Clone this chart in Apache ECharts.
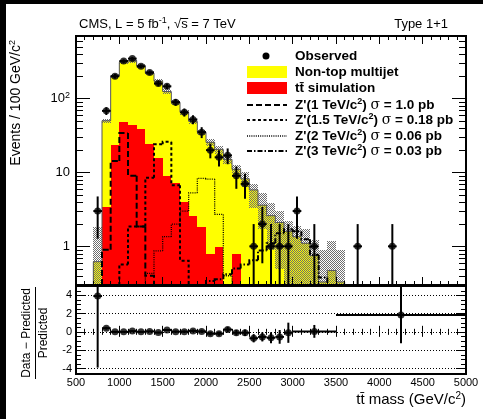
<!DOCTYPE html>
<html>
<head>
<meta charset="utf-8">
<script src="https://cdn.jsdelivr.net/npm/echarts@6.0.0/dist/echarts.min.js"></script>
<style>
html,body{margin:0;padding:0;background:#fff;}
#chart{width:483px;height:419px;}
</style>
</head>
<body>
<div id="chart"></div>
<script>
// ---------------- data ----------------
const binLow = [700,800,900,1000,1100,1200,1300,1400,1500,1600,1700,1800,1900,2000,2100,2200,2300,2400,2500,2600,2700,2800,2900,3000,3100,3200,3300,3400,3500];
const binWidth = 100;
const ttbarSim = [0,3.4,23.5,47.5,43.7,38.2,24,15.5,9.0,7.3,3.96,2.54,1.82,0.80,0.99,0,0.80,0,0,0,0,0,0,0,0,0,0,0,0];
const nonTopMultijet = [0.62,46.6,178.5,262.5,281.3,239.8,196,155.5,115,81.7,61.0,46.5,33.2,24.7,19.5,15,10.2,8.2,5.8,3.6,2.6,2.1,1.6,1.35,1.1,0.75,0.33,0.47,0.33];
const uncLow  = [0.1,47,190,292,306,262,207,160,115,82,60,45,32,22.5,18,13,9.5,6.4,3.3,1.7,0.9,0.5,0.1,0.1,0.1,0.1,0.1,0.1,0.1];
const uncHigh = [1.8,53,214,328,344,294,233,182,133,96,70,53,38,28.5,23,17,12.5,10,7.0,5.3,3.8,3.0,2.2,1.9,1.7,1.2,0.9,1.17,0.9];
const zp1000 = [0,0.9,14.3,34,9,1.86,0.4,0,0,0,0,0,0,0,0,0,0,0,0,0,0,0,0,0,0,0,0,0,0];
const zp1500 = [0,0,0,0.57,1.86,1.86,8.5,24,26,6.7,0.64,0,0,0,0,0,0,0,0,0,0,0,0,0,0,0,0,0,0];
const zp2000 = [0,0,0,0,0,0,0.43,0.87,1.35,2.0,3.0,5.3,8.3,8.1,2.7,0.4,0,0,0,0,0,0,0,0,0,0,0,0,0];
const zp3000 = [0,0,0,0,0,0,0,0,0,0,0,0,0,0.34,0.36,0.42,0.5,0.57,0.65,0.88,1.1,1.5,1.7,1.6,1.25,0.77,0.38,0,0];

const obsMass   = [750,850,950,1050,1150,1250,1350,1450,1550,1650,1750,1850,1950,2050,2150,2250,2350,2450,2550,2650,2750,2850,2950,3050,3250,3750,4150];
const obsEvents = [3,68,200,321,346,272,224,159,146,89,65,52,35,20,16,17,9,7,1,2,1,1,1,3,1,1,1];
const obsErr    = [1.73,8.2,14.1,17.9,18.6,16.5,15.0,12.6,12.1,9.4,8.1,7.2,5.9,4.5,4.0,4.1,3.0,2.6,1.0,1.41,1.0,1.0,1.0,1.73,1.0,1.0,1.0];

const ratioMass  = [750,850,950,1050,1150,1250,1350,1450,1550,1650,1750,1850,1950,2050,2150,2250,2350,2450,2550,2650,2750,2850,2950,3250,4250];
const ratioHalfW = [50,50,50,50,50,50,50,50,50,50,50,50,50,50,50,50,50,50,50,50,50,50,50,250,750];
const ratioValue = [3.9,0.4,0.0,0.0,0.08,0.0,0.05,-0.08,0.2,0.02,0.02,0.1,0.05,-0.2,-0.2,0.25,-0.1,-0.1,-0.7,-0.55,-0.65,-0.55,-0.1,0.05,1.85];
const ratioErr   = [7.8,0.15,0.07,0.06,0.06,0.06,0.07,0.08,0.09,0.11,0.13,0.15,0.17,0.2,0.22,0.28,0.3,0.35,0.45,0.5,0.6,0.75,1.1,0.7,3.1];

const logMinorTicks = [0.4,0.5,0.6,0.7,0.8,0.9,2,3,4,5,6,7,8,9,20,30,40,50,60,70,80,90,200,300,400,500,600];
const ratioMinorTicks = [-4.5,-3.5,-3,-2.5,-1.5,-1,-0.5,0.5,1,1.5,2.5,3,3.5,4.5];

const legendItems = [
  {kind:'marker', label:'Observed'},
  {kind:'box', color:'#ffff00', label:'Non-top multijet'},
  {kind:'box', color:'#ff0000', label:'tt\u0304 simulation'},
  {kind:'line', dash:[6,3], width:2, label:"Z'(1 TeV/c{sup|2}) {sig|\u03c3} = 1.0 pb"},
  {kind:'line', dash:[3,2.5], width:2, label:"Z'(1.5 TeV/c{sup|2}) {sig|\u03c3} = 0.18 pb"},
  {kind:'line', dash:[1,1.2], width:1.3, label:"Z'(2 TeV/c{sup|2}) {sig|\u03c3} = 0.06 pb"},
  {kind:'line', dash:[5,2,1.5,2], width:2, label:"Z'(3 TeV/c{sup|2}) {sig|\u03c3} = 0.03 pb"}
];

// ---------------- layout / style ----------------
const FONT = '"Liberation Sans", Arial, Helvetica, sans-serif';
const G0 = {left:76, top:36, width:390, height:249};
const G1 = {left:76, top:286, width:390, height:88};
const signalStyles = [
  {dash:[6,3], width:2},
  {dash:[3,2.5], width:2},
  {dash:[1,1.2], width:1.3},
  {dash:[5,2,1.5,2], width:2}
];

// hatch pattern for the uncertainty band
const pat = document.createElement('canvas');
pat.width = 2; pat.height = 2;
const pctx = pat.getContext('2d');
pctx.fillStyle = '#6e6e6e';
pctx.fillRect(0,0,1,1); pctx.fillRect(1,1,1,1);
const hatch = {image: pat, repeat: 'repeat'};

// ---------------- helpers ----------------
function clampY(y, cs){ return Math.max(cs.y, Math.min(cs.y + cs.height, y)); }
function yLog(api, cs, v){ return v > 0 ? clampY(api.coord([1000, v])[1], cs) : cs.y + cs.height; }
function yLin(api, cs, v){ return clampY(api.coord([1000, v])[1], cs); }
function xAt(api, v){ return api.coord([v, 1])[0]; }

function rectRender(fill){
  return function(params, api){
    const cs = params.coordSys;
    const x0 = Math.round(xAt(api, api.value(0)));
    const x1 = Math.round(xAt(api, api.value(1)));
    const yT = Math.round(yLog(api, cs, api.value(3)));
    const yB = Math.round(yLog(api, cs, api.value(2)));
    if (yB - yT <= 0) return {type:'group', children:[]};
    return {type:'rect', shape:{x:x0, y:yT, width:x1-x0, height:yB-yT}, style:{fill:fill}};
  };
}
function stepRender(stroke, width, dash){
  return function(params, api){
    const cs = params.coordSys;
    const i = params.dataIndexInside, n = params.dataInsideLength;
    const x0 = xAt(api, api.value(0)), x1 = xAt(api, api.value(1));
    const y = yLog(api, cs, api.value(2));
    const yPrev = i > 0 ? yLog(api, cs, api.value(2, i-1)) : cs.y + cs.height;
    const pts = [[x0, yPrev],[x0, y],[x1, y]];
    if (i === n-1) pts.push([x1, cs.y + cs.height]);
    return {type:'polyline', shape:{points:pts}, style:{fill:null, stroke:stroke, lineWidth:width, lineDash:dash || null}};
  };
}
function errRender(yFn){
  return function(params, api){
    const cs = params.coordSys;
    const x = api.value(0), v = api.value(1), e = api.value(2), hw = api.value(3);
    const px = xAt(api, x), py = yFn(api, cs, v);
    const xl = xAt(api, x - hw), xr = xAt(api, x + hw);
    const yH = yFn(api, cs, v + e), yL = yFn(api, cs, v - e);
    return {type:'group', children:[
      {type:'line', shape:{x1:px, y1:yH, x2:px, y2:yL}, style:{stroke:'#000', lineWidth:2}},
      {type:'line', shape:{x1:xl, y1:py, x2:xr, y2:py}, style:{stroke:'#000', lineWidth:2}}
    ]};
  };
}
function minorTickRender(len){
  return function(params, api){
    const cs = params.coordSys;
    const y = Math.round(api.coord([1000, api.value(1)])[1]) + 0.5;
    return {type:'group', children:[
      {type:'line', shape:{x1:cs.x, y1:y, x2:cs.x+len, y2:y}, style:{stroke:'#000', lineWidth:1}},
      {type:'line', shape:{x1:cs.x+cs.width-len, y1:y, x2:cs.x+cs.width, y2:y}, style:{stroke:'#000', lineWidth:1}}
    ]};
  };
}

// ---------------- data arrays for the library ----------------
const stackTop = binLow.map((x,i) => ttbarSim[i] + nonTopMultijet[i]);
const redData = binLow.map((x,i) => [x, x+binWidth, 0, ttbarSim[i]]);
const yellowData = binLow.map((x,i) => [x, x+binWidth, ttbarSim[i], stackTop[i]]);
const bandData = binLow.map((x,i) => [x, x+binWidth, uncLow[i], uncHigh[i]]);
const outlineData = binLow.map((x,i) => [x, x+binWidth, stackTop[i]]);
const signals = [zp1000, zp1500, zp2000, zp3000].map(arr =>
  binLow.map((x,i) => [x, x+binWidth, arr[i]]).filter(d => d[2] > 0));
const obsData = obsMass.map((m,i) => [m, obsEvents[i]]);
const obsErrData = obsMass.map((m,i) => [m, obsEvents[i], obsErr[i], binWidth/2]);
const ratioData = ratioMass.map((m,i) => [m, ratioValue[i]]);
const ratioErrData = ratioMass.map((m,i) => [m, ratioValue[i], ratioErr[i], ratioHalfW[i]]);

// ---------------- axes ----------------
function xAx(gridIndex, position, showLabel, tl, mtl){
  return {type:'value', gridIndex, position, min:500, max:5000, interval:500, z:10,
    axisLine:{show:false},
    axisTick:{show:true, inside:true, length:tl, lineStyle:{color:'#000', width:1}},
    minorTick:{show:true, splitNumber:5, length:mtl, lineStyle:{color:'#000', width:1}},
    splitLine:{show:false},
    axisLabel:{show:showLabel, margin:3, fontSize:11, fontFamily:FONT, color:'#000', formatter: v => String(v)}};
}
function logAx(position, showLabel){
  return {type:'log', logBase:10, gridIndex:0, position, min:0.3, max:700, z:10,
    axisLine:{show:false},
    axisTick:{show:true, inside:true, length:14, lineStyle:{color:'#000', width:1}},
    splitLine:{show:false},
    axisLabel:{show:showLabel, margin:6, fontSize:13, fontFamily:FONT, color:'#000', lineHeight:15,
      showMinLabel:false, showMaxLabel:false,
      formatter: v => Math.abs(v-1)<1e-9 ? '1' : Math.abs(v-10)<1e-9 ? '10' : Math.abs(v-100)<1e-9 ? '10{sup|2}' : '',
      rich:{sup:{fontSize:9, lineHeight:9, verticalAlign:'top', fontFamily:FONT, color:'#000'}}}};
}
function ratioAx(position, showLabel){
  return {type:'value', gridIndex:1, position, min:-4.6, max:5, splitNumber:5, z:1,
    axisLine:{show:false},
    axisTick:{show:true, inside:true, length:10, lineStyle:{color:'#000', width:1}},
    splitLine:{show:showLabel, lineStyle:{color:'#000', width:1, type:[1,2]}},
    axisLabel:{show:showLabel, margin:4, fontSize:11, fontFamily:FONT, color:'#000',
      showMinLabel:false, showMaxLabel:false, formatter: v => String(v)}};
}

// ---------------- text helpers ----------------
const mctx = document.createElement('canvas').getContext('2d');
function tw(txt, size, weight){ mctx.font = (weight||'normal') + ' ' + size + 'px ' + FONT; return mctx.measureText(txt).width; }
const supRich = {sup:{fontSize:9, lineHeight:9, verticalAlign:'top', fontFamily:FONT, fill:'#000'}};
const ovX = 79 + tw('CMS, L = 5 fb',13) + tw('-1',9) + tw(', \u221a',13);
const ovW = tw('s',13);

const graphics = [
  {type:'rect', shape:{x:0,y:0,width:483,height:4}, style:{fill:'#000'}, z:100},
  {type:'rect', shape:{x:0,y:0,width:6,height:419}, style:{fill:'#000'}, z:100},
  {type:'rect', shape:{x:G0.left, y:G0.top, width:G0.width, height:G0.height}, style:{fill:null, stroke:'#000', lineWidth:2}, z:100},
  {type:'rect', shape:{x:G1.left, y:G1.top, width:G1.width, height:G1.height}, style:{fill:null, stroke:'#000', lineWidth:2}, z:100},
  {type:'text', x:79, y:24, z:100, style:{text:'CMS, L = 5 fb{sup|-1}, \u221as = 7 TeV', fontSize:13, fontFamily:FONT, fill:'#000', lineHeight:16, textVerticalAlign:'middle', rich:supRich}},
  {type:'line', z:100, shape:{x1:ovX-0.5, y1:18.5, x2:ovX+ovW+0.5, y2:18.5}, style:{stroke:'#000', lineWidth:1}},
  {type:'text', x:448, y:24, z:100, style:{text:'Type 1+1', fontSize:13, fontFamily:FONT, fill:'#000', textAlign:'right', textVerticalAlign:'middle'}},
  {type:'text', x:16.5, y:40, rotation:Math.PI/2, z:100, style:{text:'Events / 100 GeV/c{sup|2}', fontSize:14, fontFamily:FONT, fill:'#000', lineHeight:16, textAlign:'right', textVerticalAlign:'middle', rich:supRich}},
  {type:'text', x:466, y:400, z:100, style:{text:'tt\u0304 mass (GeV/c{sup|2})', fontSize:15, fontFamily:FONT, fill:'#000', lineHeight:18, textAlign:'right', textVerticalAlign:'middle', rich:{sup:{fontSize:10, lineHeight:10, verticalAlign:'top', fontFamily:FONT, fill:'#000'}}}},
  {type:'group', x:35, y:333, rotation:Math.PI/2, z:100, children:[
    {type:'text', x:0, y:-8, style:{text:'Data \u2212 Predicted', fontSize:12, fontFamily:FONT, fill:'#000', textAlign:'center', textVerticalAlign:'middle'}},
    {type:'line', shape:{x1:-46, y1:0.5, x2:46, y2:0.5}, style:{stroke:'#000', lineWidth:1}},
    {type:'text', x:0, y:9, style:{text:'Predicted', fontSize:12, fontFamily:FONT, fill:'#000', textAlign:'center', textVerticalAlign:'middle'}}
  ]}
];
// legend
const legY = [56, 72, 88, 105, 120, 136, 151];
legendItems.forEach((it, k) => {
  const y = legY[k];
  if (it.kind === 'marker') graphics.push({type:'circle', z:100, shape:{cx:266, cy:y, r:3.5}, style:{fill:'#000'}});
  else if (it.kind === 'box') graphics.push({type:'rect', z:100, shape:{x:247, y:y-6, width:40, height:12}, style:{fill:it.color}});
  else graphics.push({type:'line', z:100, shape:{x1:247, y1:y, x2:287, y2:y}, style:{stroke:'#000', lineWidth:it.width, lineDash:it.dash}});
  graphics.push({type:'text', x:295, y:y, z:100, style:{text:it.label, fontSize:13.5, fontWeight:'bold', fontFamily:FONT, fill:'#000', lineHeight:16, textVerticalAlign:'middle',
    rich:{sup:{fontSize:9, fontWeight:'bold', lineHeight:9, verticalAlign:'top', fontFamily:FONT, fill:'#000'},
          sig:{fontSize:14, fontWeight:'normal', fontFamily:'"DejaVu Serif", "Liberation Serif", serif', fill:'#000', lineHeight:16}}}});
});

// ---------------- chart ----------------
const chart = echarts.init(document.getElementById('chart'), null, {renderer:'canvas', width:483, height:419});
const series = [
  {type:'custom', name:'tt simulation', xAxisIndex:0, yAxisIndex:0, z:2, clip:true, silent:true, encode:{x:[0,1], y:3}, data:redData, renderItem:rectRender('#ff0000')},
  {type:'custom', name:'Non-top multijet', xAxisIndex:0, yAxisIndex:0, z:2, clip:true, silent:true, encode:{x:[0,1], y:3}, data:yellowData, renderItem:rectRender('#ffff00')},
  {type:'custom', name:'Uncertainty', xAxisIndex:0, yAxisIndex:0, z:3, clip:true, silent:true, encode:{x:[0,1], y:3}, data:bandData, renderItem:rectRender(hatch)},
  {type:'custom', name:'Total', xAxisIndex:0, yAxisIndex:0, z:4, clip:true, silent:true, encode:{x:[0,1], y:2}, data:outlineData, renderItem:stepRender('#555', 1, null)}
];
signals.forEach((d, k) => series.push({type:'custom', name:'Zp'+k, xAxisIndex:0, yAxisIndex:0, z:5, clip:true, silent:true,
  encode:{x:[0,1], y:2}, data:d, renderItem:stepRender('#000', signalStyles[k].width, signalStyles[k].dash)}));
series.push(
  {type:'custom', name:'ObsErr', xAxisIndex:0, yAxisIndex:0, z:6, clip:true, silent:true, encode:{x:0, y:1}, data:obsErrData, renderItem:errRender(yLog)},
  {type:'scatter', name:'Observed', xAxisIndex:0, yAxisIndex:0, z:7, silent:true, symbol:'circle', symbolSize:7, itemStyle:{color:'#000'}, data:obsData},
  {type:'custom', name:'RatioErr', xAxisIndex:2, yAxisIndex:2, z:6, clip:true, silent:true, encode:{x:0, y:1}, data:ratioErrData, renderItem:errRender(yLin)},
  {type:'scatter', name:'Ratio', xAxisIndex:2, yAxisIndex:2, z:7, silent:true, symbol:'circle', symbolSize:7, itemStyle:{color:'#000'}, data:ratioData},
  {type:'custom', name:'logMinor', xAxisIndex:0, yAxisIndex:0, z:11, silent:true, encode:{x:0, y:1}, data:logMinorTicks.map(v => [1000, v]), renderItem:minorTickRender(7)},
  {type:'custom', name:'ratioMinor', xAxisIndex:2, yAxisIndex:2, z:11, silent:true, encode:{x:0, y:1}, data:ratioMinorTicks.map(v => [1000, v]), renderItem:minorTickRender(5)}
);

chart.setOption({
  backgroundColor:'#fff',
  animation:false,
  grid:[Object.assign({containLabel:false, outerBoundsMode:'none', show:false}, G0),
        Object.assign({containLabel:false, outerBoundsMode:'none', show:false}, G1)],
  xAxis:[xAx(0,'bottom',false,8,4), xAx(0,'top',false,8,4), xAx(1,'bottom',true,6,3), xAx(1,'top',false,5,3)],
  yAxis:[logAx('left',true), logAx('right',false), ratioAx('left',true), ratioAx('right',false)],
  series:series,
  graphic:graphics
});
</script>
</body>
</html>
